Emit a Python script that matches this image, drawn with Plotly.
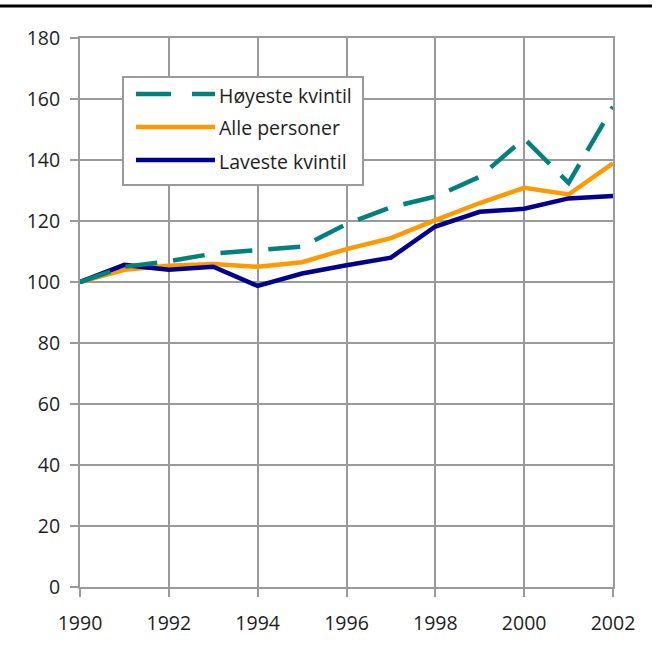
import plotly.graph_objects as go

years = list(range(1990, 2003))
hoyeste = [100, 105.0, 106.8, 109.3, 110.5, 111.6, 119.0, 124.5, 128.0, 134.5, 147.0, 132.5, 157.5]
alle = [100, 104.0, 105.3, 105.9, 105.0, 106.5, 110.8, 114.4, 120.3, 125.9, 130.9, 128.7, 138.9]
laveste = [100, 105.6, 104.0, 105.0, 98.7, 102.8, 105.5, 108.0, 118.2, 123.0, 124.0, 127.4, 128.2]
names = ["Høyeste kvintil", "Alle personer", "Laveste kvintil"]
colors = ["#00807F", "#FF9900", "#00008F"]

W, H = 659, 648
L, R, T, B = 80, 46, 38, 61
pw, ph = W - L - R, H - T - B

def px_x(x):
    return (x - L) / pw

def px_y(y):
    return (H - B - y) / ph

FONT = "Open Sans"
GRID = "#9a9a9a"
TXT = "#1e1e1e"
LW = 4.5

fig = go.Figure()
fig.add_trace(go.Scatter(x=years, y=alle, mode="lines", name=names[1],
                         line=dict(color=colors[1], width=LW), showlegend=False))
fig.add_trace(go.Scatter(x=years, y=laveste, mode="lines", name=names[2],
                         line=dict(color=colors[2], width=LW), showlegend=False))
fig.add_trace(go.Scatter(x=years, y=hoyeste, mode="lines", name=names[0],
                         line=dict(color=colors[0], width=LW, dash="32px,16px"), showlegend=False))

shapes = []
# top black rule
shapes.append(dict(type="line", xref="paper", yref="paper",
                   x0=px_x(0), x1=px_x(652), y0=px_y(6), y1=px_y(6),
                   line=dict(color="black", width=3)))
# legend box
shapes.append(dict(type="rect", xref="paper", yref="paper",
                   x0=px_x(123), x1=px_x(363), y0=px_y(185), y1=px_y(77),
                   line=dict(color=GRID, width=2), fillcolor="white", layer="above"))
annotations = []
ly = [94, 127, 160]
for i in range(3):
    if i == 0:
        shapes.append(dict(type="line", xref="paper", yref="paper",
                           x0=px_x(136), x1=px_x(171), y0=px_y(ly[i]), y1=px_y(ly[i]),
                           line=dict(color=colors[i], width=LW), layer="above"))
        shapes.append(dict(type="line", xref="paper", yref="paper",
                           x0=px_x(192), x1=px_x(215), y0=px_y(ly[i]), y1=px_y(ly[i]),
                           line=dict(color=colors[i], width=LW), layer="above"))
    else:
        shapes.append(dict(type="line", xref="paper", yref="paper",
                           x0=px_x(136), x1=px_x(215), y0=px_y(ly[i]), y1=px_y(ly[i]),
                           line=dict(color=colors[i], width=LW), layer="above"))
    annotations.append(dict(xref="paper", yref="paper", x=px_x(217), y=px_y(ly[i] + 1),
                            text=names[i], showarrow=False, xanchor="left", yanchor="middle",
                            font=dict(family=FONT, size=19.5, color=TXT)))

fig.update_layout(
    width=W, height=H,
    margin=dict(l=L, r=R, t=T, b=B, autoexpand=False),
    paper_bgcolor="white", plot_bgcolor="white",
    shapes=shapes, annotations=annotations,
    font=dict(family=FONT, size=19.5, color=TXT),
    showlegend=False,
)
fig.update_xaxes(range=[1990, 2002], tickvals=list(range(1990, 2003, 2)),
                 showgrid=True, gridcolor=GRID, gridwidth=2,
                 showline=True, linecolor=GRID, linewidth=2, mirror=True,
                 ticks="outside", ticklen=8, tickcolor=GRID, tickwidth=2,
                 ticklabelstandoff=10,
                 zeroline=False, tickfont=dict(size=19.5))
fig.update_yaxes(range=[0, 180], tickvals=list(range(0, 181, 20)),
                 showgrid=True, gridcolor=GRID, gridwidth=2,
                 showline=True, linecolor=GRID, linewidth=2, mirror=True,
                 ticks="outside", ticklen=8, tickcolor=GRID, tickwidth=2,
                 ticklabelstandoff=6,
                 zeroline=False, tickfont=dict(size=19.5))

fig.write_html("out.html", config={"displayModeBar": False},
               post_script="document.body.style.margin='0';document.body.style.padding='0';")
